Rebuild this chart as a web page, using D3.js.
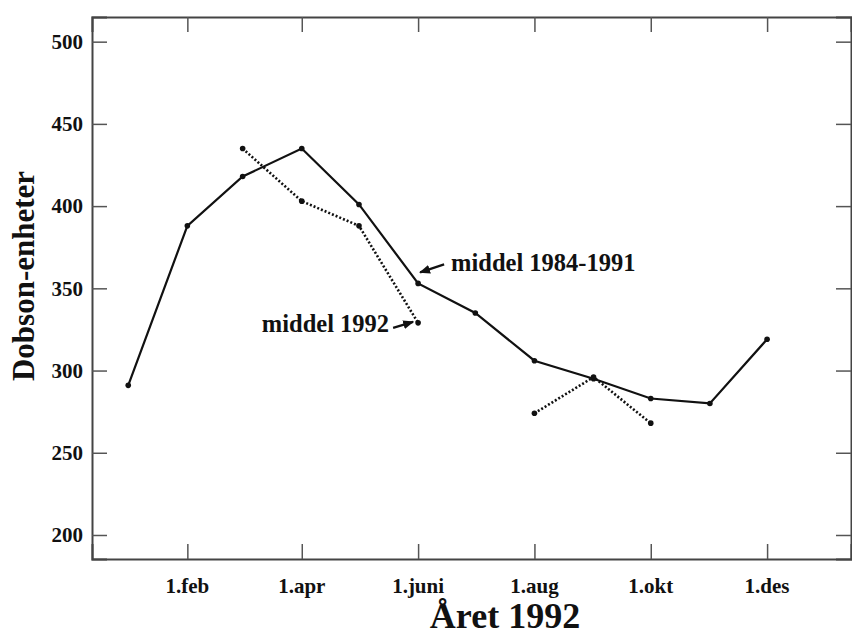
<!DOCTYPE html>
<html>
<head>
<meta charset="utf-8">
<script src="https://d3js.org/d3.v7.min.js"></script>
<style>
  body { margin: 0; background: #fff; }
  text { font-family: "Liberation Serif", "Times New Roman", serif; font-weight: bold; fill: #111; }
</style>
</head>
<body>
<div id="chart"></div>
<script>
// months 1992, one point on the 1st of each month
var months = ["jan", "feb", "mar", "apr", "mai", "juni", "juli", "aug", "sep", "okt", "nov", "des"];
var middel8491 = [291, 388, 418, 435, 401, 353, 335, 306, 295, 283, 280, 319];
// middel 1992, two separate stretches
var middel1992a = [435, 403, 388, 329];   // mar - juni
var middel1992aStart = 2;
var middel1992b = [274, 296, 268];        // aug - okt
var middel1992bStart = 7;

var xTickMonths = [1, 3, 5, 7, 9, 11];
var xTickLabels = ["1.feb", "1.apr", "1.juni", "1.aug", "1.okt", "1.des"];
var yTicks = [200, 250, 300, 350, 400, 450, 500];

var width = 852, height = 637;
var margin = { top: 17, left: 92, bottom: 78, right: 1 };

var svg = d3.select("#chart").append("svg")
    .attr("width", width)
    .attr("height", height);

var x = d3.scaleTime()
    .domain([new Date(1991, 11, 13), new Date(1993, 0, 14)])
    .range([margin.left, width - margin.right]);

var y = d3.scaleLinear()
    .domain([185.4, 515])
    .range([height - margin.bottom, margin.top]);

function monthDate(i) { return new Date(1992, i, 1); }

// frame with inward ticks on all four sides
var tick = 15;
var xTickVals = xTickMonths.map(monthDate);

svg.append("g")
    .attr("transform", "translate(0," + y.range()[0] + ")")
    .call(d3.axisTop(x).tickValues(xTickVals).tickSize(tick).tickFormat(""));
svg.append("g")
    .attr("transform", "translate(0," + y.range()[1] + ")")
    .call(d3.axisBottom(x).tickValues(xTickVals).tickSize(tick).tickFormat(""));
svg.append("g")
    .attr("transform", "translate(" + x.range()[0] + ",0)")
    .call(d3.axisRight(y).tickValues(yTicks).tickSize(tick).tickFormat(""));
svg.append("g")
    .attr("transform", "translate(" + x.range()[1] + ",0)")
    .call(d3.axisLeft(y).tickValues(yTicks).tickSize(tick).tickFormat(""));

svg.selectAll(".domain").attr("stroke", "#444").attr("stroke-width", 2);
svg.selectAll(".tick line").attr("stroke", "#555").attr("stroke-width", 1.5);

// tick labels
svg.selectAll(".ylab")
    .data(yTicks)
    .enter().append("text")
    .attr("class", "ylab")
    .attr("x", 83)
    .attr("y", function(d) { return y(d); })
    .attr("dy", "0.35em")
    .attr("text-anchor", "end")
    .style("font-size", "21px")
    .text(function(d) { return d; });

svg.selectAll(".xlab")
    .data(xTickMonths)
    .enter().append("text")
    .attr("class", "xlab")
    .attr("x", function(d) { return x(monthDate(d)); })
    .attr("y", 593)
    .attr("text-anchor", "middle")
    .style("font-size", "21px")
    .text(function(d, i) { return xTickLabels[i]; });

// axis titles
svg.append("text")
    .attr("transform", "translate(34,276) rotate(-90)")
    .attr("text-anchor", "middle")
    .style("font-size", "31px")
    .text("Dobson-enheter");

svg.append("text")
    .attr("x", 505)
    .attr("y", 628)
    .attr("text-anchor", "middle")
    .style("font-size", "36px")
    .text("\u00c5ret 1992");

// lines
var line = d3.line()
    .x(function(d) { return x(monthDate(d.m)); })
    .y(function(d) { return y(d.v); });

function pts(vals, start) {
  return vals.map(function(v, i) { return { m: start + i, v: v }; });
}

var solid = pts(middel8491, 0);
var dotA = pts(middel1992a, middel1992aStart);
var dotB = pts(middel1992b, middel1992bStart);

svg.append("path")
    .attr("d", line(solid))
    .attr("fill", "none")
    .attr("stroke", "#111")
    .attr("stroke-width", 2.2);

[dotA, dotB].forEach(function(s) {
  svg.append("path")
      .attr("d", line(s))
      .attr("fill", "none")
      .attr("stroke", "#111")
      .attr("stroke-width", 2.6)
      .attr("stroke-dasharray", "2,2");
});

svg.selectAll(".pt")
    .data(solid.concat(dotA, dotB))
    .enter().append("circle")
    .attr("class", "pt")
    .attr("cx", function(d) { return x(monthDate(d.m)); })
    .attr("cy", function(d) { return y(d.v); })
    .attr("r", 2.8)
    .attr("fill", "#111");

// annotations
svg.append("defs").append("marker")
    .attr("id", "head")
    .attr("viewBox", "0 0 10 10")
    .attr("refX", 9).attr("refY", 5)
    .attr("markerWidth", 5).attr("markerHeight", 5)
    .attr("orient", "auto")
    .append("path")
    .attr("d", "M0,1 L10,5 L0,9 Z")
    .attr("fill", "#111");

var a1 = solid[5];
var a1x = x(monthDate(a1.m)), a1y = y(a1.v);
svg.append("line")
    .attr("x1", a1x + 26).attr("y1", a1y - 19)
    .attr("x2", a1x + 2).attr("y2", a1y - 11)
    .attr("stroke", "#111").attr("stroke-width", 2.2)
    .attr("marker-end", "url(#head)");
svg.append("text")
    .attr("x", a1x + 33)
    .attr("y", a1y - 12)
    .style("font-size", "24.5px")
    .text("middel 1984-1991");

var a2 = dotA[3];
var a2x = x(monthDate(a2.m)), a2y = y(a2.v);
svg.append("line")
    .attr("x1", a2x - 25).attr("y1", a2y + 5)
    .attr("x2", a2x - 5).attr("y2", a2y - 1)
    .attr("stroke", "#111").attr("stroke-width", 2.2)
    .attr("marker-end", "url(#head)");
svg.append("text")
    .attr("x", a2x - 29)
    .attr("y", a2y + 9)
    .attr("text-anchor", "end")
    .style("font-size", "24.5px")
    .text("middel 1992");
</script>
</body>
</html>
